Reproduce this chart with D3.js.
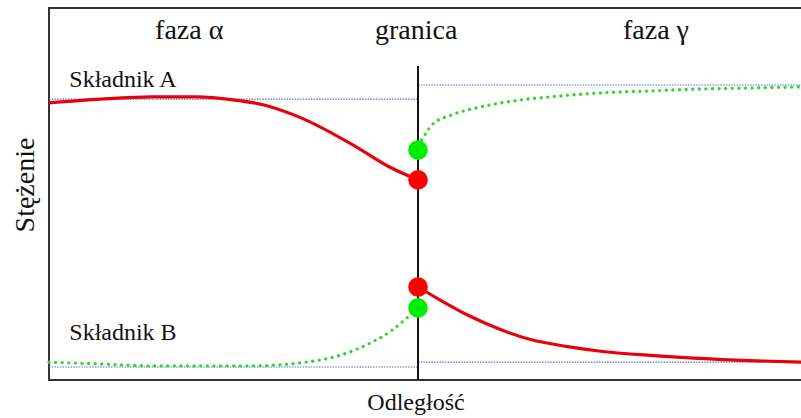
<!DOCTYPE html>
<html>
<head>
<meta charset="utf-8">
<script src="https://cdn.jsdelivr.net/npm/d3@7/dist/d3.min.js"></script>
<style>
  #chart text { font-family: "Liberation Serif", "Times New Roman", Times, serif !important; }
</style>
</head>
<body style="margin:0">
<svg id="chart" width="801" height="418"></svg>
<script>
// Distance: boundary at 0, phase α on the left (<0), phase γ on the right (>0).
// Concentration: arbitrary units 0..1.

// Component A – phase α (solid red), ends at the boundary
const compA_alpha = [
  [-1.00, 0.745], [-0.86, 0.755], [-0.72, 0.761], [-0.60, 0.761], [-0.50, 0.753],
  [-0.42, 0.740], [-0.32, 0.706], [-0.18, 0.634], [-0.08, 0.574], [0.00, 0.538]
];
// Component A – phase γ (dotted green), starts at the boundary
const compA_gamma = [
  [0.01, 0.645], [0.04, 0.688], [0.09, 0.712], [0.17, 0.734], [0.28, 0.753],
  [0.38, 0.763], [0.50, 0.772], [0.63, 0.777], [0.76, 0.782], [0.90, 0.785], [1.04, 0.788]
];
// Component B – phase α (dotted green)
const compB_alpha = [
  [-1.00, 0.048], [-0.86, 0.043], [-0.72, 0.038], [-0.45, 0.038], [-0.32, 0.046],
  [-0.21, 0.067], [-0.13, 0.099], [-0.07, 0.134], [-0.03, 0.167], [0.00, 0.194]
];
// Component B – phase γ (solid red)
const compB_gamma = [
  [0.00, 0.250], [0.06, 0.215], [0.14, 0.172], [0.22, 0.137], [0.30, 0.110],
  [0.41, 0.089], [0.49, 0.078], [0.63, 0.066], [0.76, 0.058], [0.90, 0.052], [1.04, 0.048]
];

// Equilibrium levels (blue dotted guides) per phase
const levelsAlpha = [0.755, 0.035];   // A, B in phase α
const levelsGamma = [0.793, 0.048];   // A, B in phase γ

// Interface compositions (dots on the boundary)
const interfacePoints = [
  { c: 0.538, color: "#ff0000" },  // A, α side
  { c: 0.618, color: "#00ee00" },  // A, γ side
  { c: 0.250, color: "#ff0000" },  // B, γ side
  { c: 0.194, color: "#00ee00" }   // B, α side
];

// Labels
const phaseLabels = [
  { x: -0.62, text: "faza α" },
  { x: -0.005, text: "granica" },
  { x: 0.645, text: "faza γ" }
];
const componentLabels = [
  { x: -0.945, c: 0.788, text: "Składnik A" },
  { x: -0.945, c: 0.108, text: "Składnik B" }
];
const xTitle = "Odległość";
const yTitle = "Stężenie";

const svg = d3.select("#chart");

const x = d3.scaleLinear().domain([-1, 1]).range([49, 787]);
const y = d3.scaleLinear().domain([0, 1]).range([380, 8]);

const line = d3.line()
  .x(d => x(d[0]))
  .y(d => y(d[1]))
  .curve(d3.curveMonotoneX);

// Frame (right side runs past the visible area)
svg.append("rect")
  .attr("x", x(-1)).attr("y", y(1))
  .attr("width", x(1.06) - x(-1)).attr("height", y(0) - y(1))
  .attr("fill", "none").attr("stroke", "#333").attr("stroke-width", 2);

// Equilibrium guides
const guide = (x0, x1, c) => svg.append("line")
  .attr("x1", x(x0)).attr("x2", x(x1))
  .attr("y1", y(c)).attr("y2", y(c))
  .attr("stroke", "#5a6fd0").attr("stroke-width", 1.2)
  .attr("stroke-dasharray", "1.5,1.2");
levelsAlpha.forEach(c => guide(-1, 0, c));
levelsGamma.forEach(c => guide(0, 1.06, c));

// Boundary
svg.append("line")
  .attr("x1", x(0)).attr("x2", x(0))
  .attr("y1", y(0.844)).attr("y2", y(0))
  .attr("stroke", "#111").attr("stroke-width", 2);

// Concentration profiles
const solid = data => svg.append("path").datum(data)
  .attr("d", line).attr("fill", "none")
  .attr("stroke", "#e8000b").attr("stroke-width", 3.2);
const dotted = data => svg.append("path").datum(data)
  .attr("d", line).attr("fill", "none")
  .attr("stroke", "#2ed82e").attr("stroke-width", 3.4)
  .attr("stroke-linecap", "round").attr("stroke-dasharray", "0,6.6");

solid(compA_alpha);
dotted(compA_gamma);
dotted(compB_alpha);
solid(compB_gamma);

// Interface dots
svg.selectAll("circle.iface").data(interfacePoints).join("circle")
  .attr("class", "iface")
  .attr("cx", x(0)).attr("cy", d => y(d.c)).attr("r", 9.8)
  .attr("fill", d => d.color);

// Text helper: serif face set directly on each label
const label = sel => sel
  .style("font-family", '"Liberation Serif", "Times New Roman", Times, serif', "important")
  .attr("fill", "#111");

// Phase labels
svg.selectAll("text.phase").data(phaseLabels).join("text")
  .attr("class", "phase")
  .attr("x", d => x(d.x)).attr("y", 39)
  .attr("text-anchor", "middle")
  .attr("font-size", 28)
  .call(label)
  .text(d => d.text);

// Component labels
svg.selectAll("text.comp").data(componentLabels).join("text")
  .attr("class", "comp")
  .attr("x", d => x(d.x)).attr("y", d => y(d.c))
  .attr("font-size", 24)
  .call(label)
  .text(d => d.text);

// Axis titles
svg.append("text")
  .attr("x", x(0) - 2).attr("y", 410)
  .attr("text-anchor", "middle")
  .attr("font-size", 24)
  .call(label)
  .text(xTitle);
svg.append("text")
  .attr("transform", "translate(34,185) rotate(-90)")
  .attr("text-anchor", "middle")
  .attr("font-size", 28)
  .call(label)
  .text(yTitle);
</script>
</body>
</html>
